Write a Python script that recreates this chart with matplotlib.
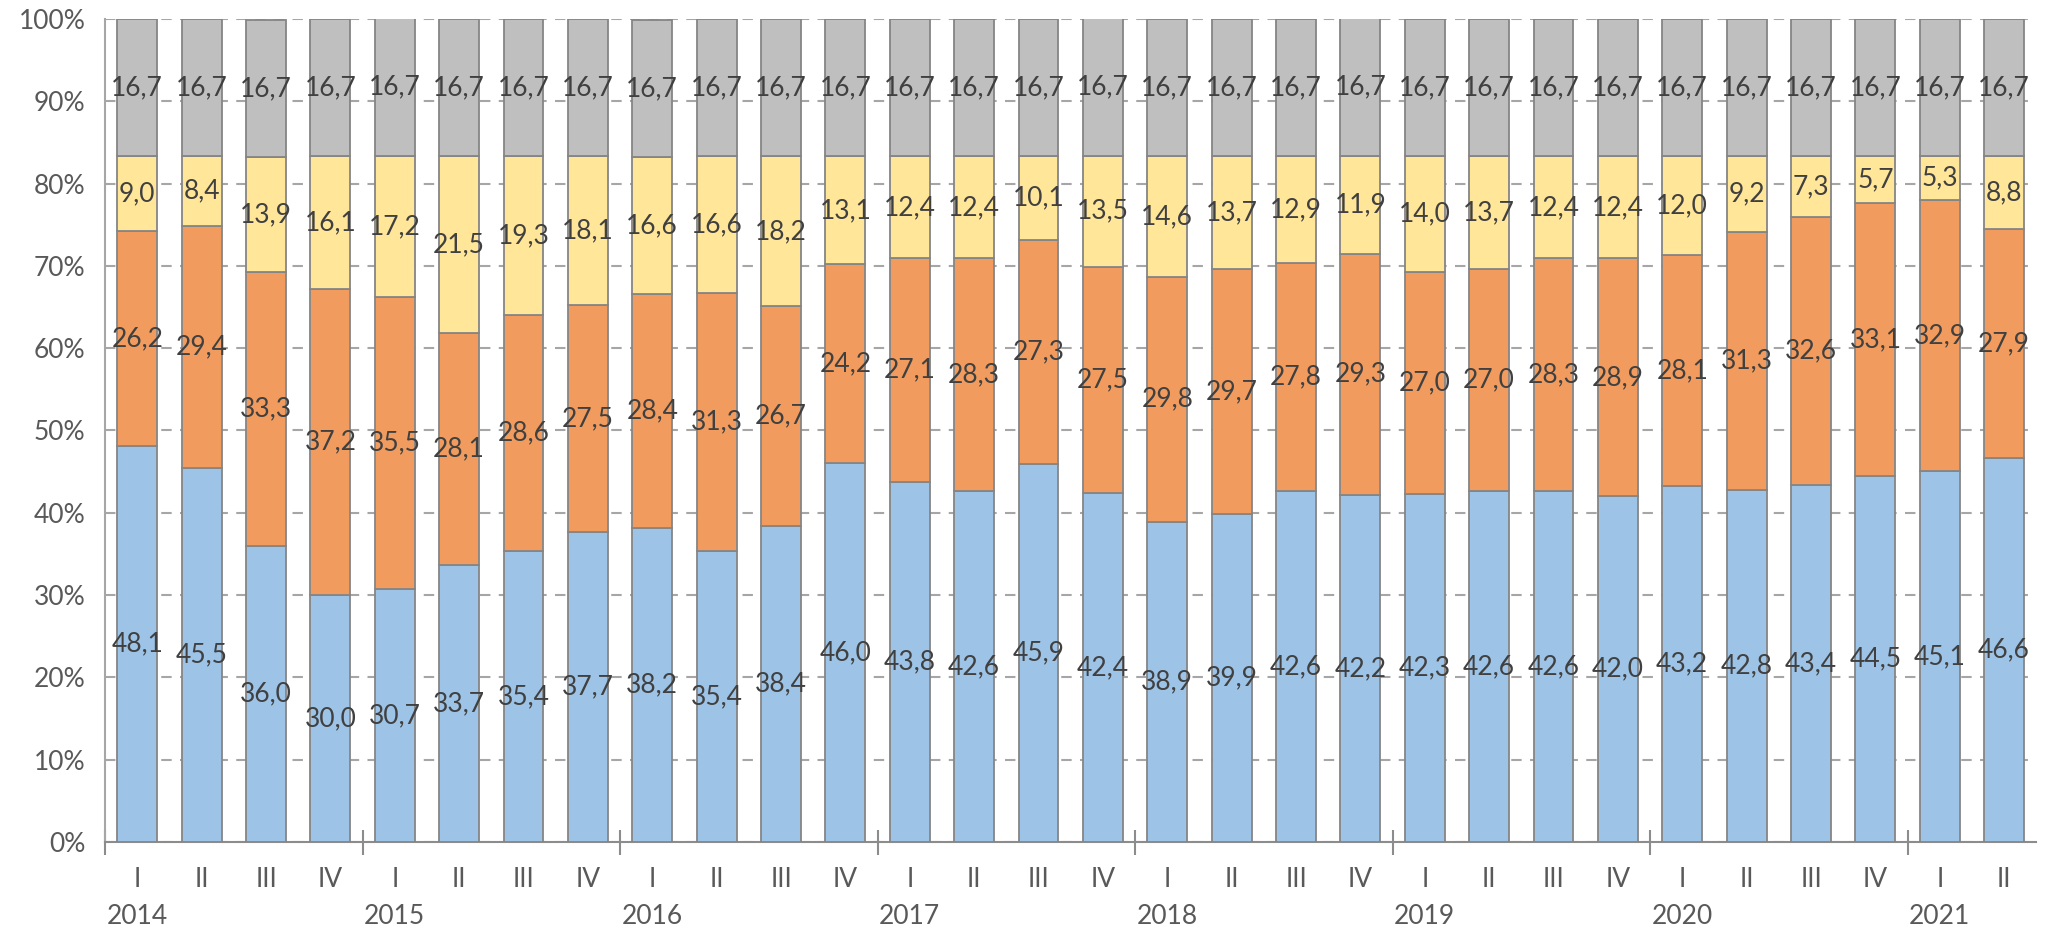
import numpy as np
import matplotlib.pyplot as plt
from matplotlib.ticker import PercentFormatter

plt.rcParams['font.family'] = ['Lato', 'DejaVu Sans']

quarters = ['I', 'II', 'III', 'IV'] * 7 + ['I', 'II']
years = ['2014', '2015', '2016', '2017', '2018', '2019', '2020', '2021']

blue = [48.1, 45.5, 36.0, 30.0, 30.7, 33.7, 35.4, 37.7, 38.2, 35.4, 38.4, 46.0, 43.8, 42.6, 45.9,
        42.4, 38.9, 39.9, 42.6, 42.2, 42.3, 42.6, 42.6, 42.0, 43.2, 42.8, 43.4, 44.5, 45.1, 46.6]
orange = [26.2, 29.4, 33.3, 37.2, 35.5, 28.1, 28.6, 27.5, 28.4, 31.3, 26.7, 24.2, 27.1, 28.3, 27.3,
          27.5, 29.8, 29.7, 27.8, 29.3, 27.0, 27.0, 28.3, 28.9, 28.1, 31.3, 32.6, 33.1, 32.9, 27.9]
yellow = [9.0, 8.4, 13.9, 16.1, 17.2, 21.5, 19.3, 18.1, 16.6, 16.6, 18.2, 13.1, 12.4, 12.4, 10.1,
          13.5, 14.6, 13.7, 12.9, 11.9, 14.0, 13.7, 12.4, 12.4, 12.0, 9.2, 7.3, 5.7, 5.3, 8.8]
gray = [16.7] * 30

series = [blue, orange, yellow, gray]
colors = ['#9DC3E6', '#F19C5E', '#FFE699', '#BFBFBF']

fig = plt.figure(figsize=(20.48, 9.31), dpi=100)
ax = fig.add_axes([0.0513, 0.0956, 0.943, 0.884])

x = np.arange(len(quarters))
bottom = np.zeros(len(x))
for vals, c in zip(series, colors):
    vals = np.array(vals)
    ax.bar(x, vals, 0.62, bottom=bottom, color=c, edgecolor='#858585', linewidth=1.3, zorder=3)
    for xi, b, v in zip(x, bottom, vals):
        ax.text(xi, b + v / 2, f'{v:.1f}'.replace('.', ','), ha='center', va='center',
                fontsize=19, color='#404040', zorder=4)
    bottom += vals

ax.set_xlim(-0.5, len(x) - 0.5)
ax.set_ylim(0, 100)
ax.set_yticks(np.arange(0, 101, 10))
ax.yaxis.set_major_formatter(PercentFormatter(decimals=0))
ax.grid(axis='y', linestyle=(0, (5, 4)), color='#A6A6A6', linewidth=1.5, zorder=0)

ax.set_xticks(x)
ax.set_xticklabels(quarters)
ax.set_xticks(np.arange(-0.5, len(x), 4), minor=True)
ax.tick_params(axis='x', which='major', length=0, pad=18, labelsize=19, labelcolor='#595959')
ax.tick_params(axis='x', which='minor', length=18, direction='inout', color='#8C8C8C', width=1.5)
ax.tick_params(axis='y', length=0, pad=14, labelsize=19, labelcolor='#595959')

for i, yr in enumerate(years):
    ax.text(i * 4, -0.091, yr, transform=ax.get_xaxis_transform(), ha='center', va='center',
            fontsize=19, color='#595959')

for s in ['top', 'right']:
    ax.spines[s].set_visible(False)
ax.spines['left'].set_color('#A6A6A6')
ax.spines['bottom'].set_color('#8C8C8C')
ax.spines['left'].set_linewidth(1.5)
ax.spines['bottom'].set_linewidth(1.5)

fig.savefig('out.png', dpi=100)
